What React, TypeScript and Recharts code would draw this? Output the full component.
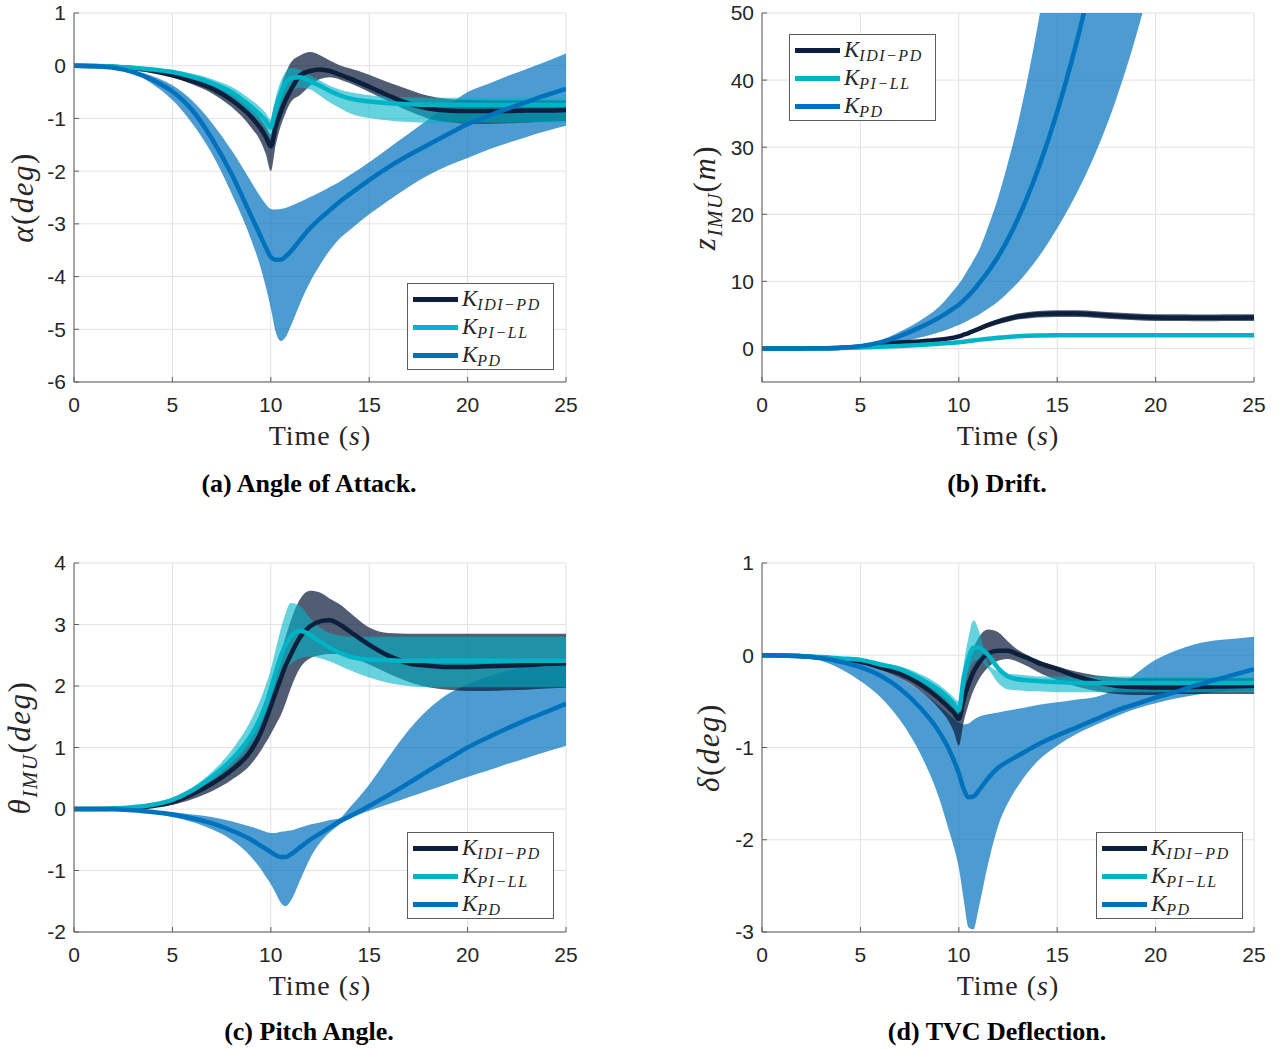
import React from 'react';
import { ComposedChart, Area, Line, XAxis, YAxis, CartesianGrid } from 'recharts';

// shared time base (s)
const TIME = [
  0, 1, 2, 3, 4, 5, 6, 7, 8, 9,
  9.5, 9.75, 10, 10.25, 10.5, 10.75,
  11, 11.5, 12, 12.5, 13, 13.5, 14,
  15, 16, 17, 18, 19, 20, 21, 22, 23, 24, 25,
];

const X_TICKS = [0, 5, 10, 15, 20, 25];
const AOA_TICKS = [-6, -5, -4, -3, -2, -1, 0, 1];
const DRIFT_TICKS = [0, 10, 20, 30, 40, 50];
const PITCH_TICKS = [-2, -1, 0, 1, 2, 3, 4];
const TVC_TICKS = [-3, -2, -1, 0, 1];

// (a) angle of attack, deg
const AOA_IDI = [
  0, -0.005, -0.02, -0.05, -0.1, -0.18, -0.29, -0.43, -0.65, -0.97,
  -1.2, -1.35, -1.53, -1.15, -0.88, -0.65,
  -0.47, -0.18, -0.1, -0.07, -0.1, -0.17, -0.24,
  -0.4, -0.57, -0.72, -0.81, -0.85, -0.86, -0.86, -0.86, -0.85, -0.85, -0.84,
];
const AOA_IDI_HI = [
  0, 0, -0.015, -0.04, -0.08, -0.14, -0.23, -0.35, -0.53, -0.82,
  -1.02, -1.15, -1.3, -0.8, -0.42, -0.15,
  0.05, 0.2, 0.26, 0.2, 0.1, 0.01, -0.05,
  -0.17, -0.32, -0.45, -0.57, -0.63, -0.65, -0.66, -0.66, -0.66, -0.66, -0.66,
];
const AOA_IDI_LO = [
  0, -0.01, -0.03, -0.06, -0.12, -0.22, -0.35, -0.52, -0.78, -1.17,
  -1.45, -1.68, -2.0, -1.5, -1.15, -0.9,
  -0.7, -0.55, -0.38, -0.25, -0.22, -0.26, -0.33,
  -0.5, -0.68, -0.86, -1.0, -1.07, -1.1, -1.1, -1.09, -1.08, -1.06, -1.05,
];
const AOA_PILL = [
  0, -0.005, -0.015, -0.04, -0.07, -0.12, -0.21, -0.33, -0.5, -0.78,
  -0.95, -1.05, -1.17, -0.8, -0.52, -0.33,
  -0.24, -0.22, -0.3, -0.38, -0.48, -0.56, -0.62,
  -0.68, -0.71, -0.73, -0.74, -0.74, -0.74, -0.74, -0.74, -0.74, -0.74, -0.74,
];
const AOA_PILL_HI = [
  0, 0, -0.01, -0.03, -0.05, -0.08, -0.15, -0.25, -0.4, -0.65,
  -0.8, -0.9, -1.02, -0.6, -0.3, -0.12,
  -0.04, -0.08, -0.18, -0.28, -0.38, -0.45, -0.5,
  -0.56, -0.59, -0.6, -0.61, -0.61, -0.61, -0.61, -0.61, -0.61, -0.61, -0.61,
];
const AOA_PILL_LO = [
  0, -0.01, -0.02, -0.05, -0.09, -0.16, -0.27, -0.41, -0.6, -0.92,
  -1.1, -1.22, -1.38, -1.08, -0.83, -0.65,
  -0.52, -0.42, -0.45, -0.57, -0.7, -0.8, -0.9,
  -0.99, -1.04, -1.07, -1.08, -1.08, -1.08, -1.08, -1.08, -1.08, -1.08, -1.08,
];
const AOA_PD = [
  0, -0.01, -0.04, -0.12, -0.27, -0.49, -0.84, -1.38, -2.05, -2.85,
  -3.25, -3.45, -3.63, -3.68, -3.68, -3.62,
  -3.53, -3.3, -3.08, -2.9, -2.74, -2.58, -2.44,
  -2.17, -1.92, -1.7, -1.5, -1.3, -1.11, -0.96, -0.82, -0.69, -0.56, -0.44,
];
const AOA_PD_HI = [
  0, -0.005, -0.03, -0.09, -0.2, -0.37, -0.66, -1.08, -1.6, -2.2,
  -2.5, -2.63, -2.72, -2.73, -2.72, -2.7,
  -2.66, -2.58, -2.49, -2.4, -2.3, -2.2, -2.08,
  -1.83, -1.56, -1.29, -1.02, -0.76, -0.5, -0.35, -0.2, -0.06, 0.08, 0.23,
];
const AOA_PD_LO = [
  0, -0.01, -0.05, -0.15, -0.35, -0.65, -1.09, -1.66, -2.42, -3.3,
  -3.85, -4.2, -4.6, -5.05, -5.22, -5.15,
  -4.95, -4.5, -4.1, -3.78, -3.5, -3.28, -3.12,
  -2.82, -2.55, -2.3, -2.08, -1.9, -1.75, -1.6, -1.47, -1.35, -1.24, -1.14,
];

// (b) drift, m  (null = far above the visible range)
const DRIFT_IDI = [
  0, 0, 0.01, 0.04, 0.12, 0.3, 0.6, 0.88, 1.05, 1.3,
  1.5, 1.62, 1.8, 2.05, 2.3, 2.6,
  2.9, 3.5, 4.0, 4.4, 4.75, 4.95, 5.1,
  5.2, 5.2, 5.05, 4.85, 4.7, 4.6, 4.58, 4.57, 4.57, 4.58, 4.6,
];
const DRIFT_IDI_HI = [
  0, 0, 0.02, 0.06, 0.16, 0.36, 0.68, 0.98, 1.18, 1.45,
  1.67, 1.8, 2.0, 2.27, 2.55, 2.87,
  3.2, 3.85, 4.4, 4.82, 5.2, 5.42, 5.58,
  5.7, 5.7, 5.55, 5.35, 5.2, 5.1, 5.08, 5.07, 5.07, 5.08, 5.1,
];
const DRIFT_IDI_LO = [
  0, 0, 0, 0.02, 0.08, 0.24, 0.52, 0.78, 0.92, 1.15,
  1.33, 1.44, 1.6, 1.83, 2.05, 2.33,
  2.6, 3.15, 3.6, 3.98, 4.3, 4.48, 4.62,
  4.7, 4.7, 4.55, 4.35, 4.2, 4.1, 4.08, 4.07, 4.07, 4.08, 4.1,
];
const DRIFT_PILL = [
  0, 0, 0.005, 0.02, 0.06, 0.14, 0.25, 0.38, 0.52, 0.7,
  0.8, 0.86, 0.93, 1.01, 1.1, 1.19,
  1.28, 1.45, 1.6, 1.72, 1.82, 1.88, 1.92,
  1.95, 1.95, 1.95, 1.95, 1.95, 1.95, 1.95, 1.95, 1.95, 1.95, 1.95,
];
const DRIFT_PILL_HI = [
  0, 0, 0.01, 0.03, 0.08, 0.18, 0.31, 0.46, 0.62, 0.82,
  0.93, 1.0, 1.08, 1.17, 1.26, 1.36,
  1.45, 1.62, 1.77, 1.9, 2.0, 2.06, 2.1,
  2.13, 2.13, 2.13, 2.13, 2.13, 2.13, 2.13, 2.13, 2.13, 2.13, 2.13,
];
const DRIFT_PILL_LO = [
  0, 0, 0, 0.01, 0.04, 0.1, 0.19, 0.3, 0.42, 0.58,
  0.67, 0.72, 0.78, 0.85, 0.94, 1.02,
  1.11, 1.28, 1.43, 1.54, 1.64, 1.7, 1.74,
  1.77, 1.77, 1.77, 1.77, 1.77, 1.77, 1.77, 1.77, 1.77, 1.77, 1.77,
];
const DRIFT_PD = [
  0, 0, 0.01, 0.04, 0.12, 0.35, 0.9, 1.85, 3.1, 4.6,
  5.5, 6.0, 6.5, 7.2, 7.9, 8.7,
  9.6, 11.5, 13.7, 16.3, 19.3, 22.7, 26.5,
  35.3, 45.8, 58, null, null, null, null, null, null, null, null,
];
const DRIFT_PD_HI = [
  0, 0, 0.01, 0.05, 0.17, 0.5, 1.2, 2.5, 4.1, 6.2,
  7.8, 8.7, 9.6, 10.7, 11.9, 13.2,
  14.5, 18.2, 22.5, 27.7, 33.5, 40.3, 48,
  66, 88, 112, 140, 170, 205, null, null, null, null, null,
];
const DRIFT_PD_LO = [
  0, 0, 0.01, 0.03, 0.1, 0.25, 0.55, 1.0, 1.6, 2.4,
  2.9, 3.2, 3.5, 3.85, 4.2, 4.6,
  5.0, 5.95, 7.0, 8.35, 9.8, 11.5, 13.4,
  17.9, 23.2, 29.5, 37.2, 46.5, 57.5, null, null, null, null, null,
];

// (c) pitch angle, deg
const PITCH_IDI = [
  0, 0, 0.005, 0.015, 0.05, 0.11, 0.24, 0.41, 0.63, 0.95,
  1.25, 1.45, 1.67, 1.9, 2.12, 2.33,
  2.5, 2.8, 2.97, 3.05, 3.07, 3.0, 2.89,
  2.67, 2.49, 2.37, 2.33, 2.31, 2.31, 2.32, 2.33, 2.34, 2.36, 2.37,
];
const PITCH_IDI_HI = [
  0, 0, 0.005, 0.02, 0.07, 0.15, 0.3, 0.5, 0.76, 1.16,
  1.5, 1.72, 1.97, 2.25, 2.52, 2.8,
  3.05, 3.42, 3.55, 3.52, 3.42, 3.33, 3.2,
  2.95, 2.86, 2.85, 2.85, 2.85, 2.85, 2.85, 2.85, 2.85, 2.85, 2.85,
];
const PITCH_IDI_LO = [
  0, 0, 0.003, 0.01, 0.03, 0.07, 0.16, 0.29, 0.47, 0.73,
  0.95, 1.08, 1.22, 1.37, 1.52, 1.72,
  1.95, 2.3, 2.45, 2.5, 2.52, 2.52, 2.48,
  2.35, 2.2, 2.07, 1.98, 1.94, 1.92, 1.92, 1.93, 1.94, 1.96, 1.97,
];
const PITCH_PILL = [
  0, 0, 0.008, 0.03, 0.07, 0.15, 0.3, 0.52, 0.8, 1.2,
  1.5, 1.7, 1.95, 2.22, 2.47, 2.67,
  2.8, 2.9, 2.83, 2.72, 2.62, 2.54, 2.48,
  2.43, 2.42, 2.41, 2.41, 2.41, 2.41, 2.41, 2.41, 2.41, 2.41, 2.41,
];
const PITCH_PILL_HI = [
  0, 0, 0.01, 0.035, 0.09, 0.18, 0.35, 0.6, 0.95, 1.45,
  1.8, 2.02, 2.27, 2.6, 2.92, 3.18,
  3.35, 3.3, 3.1, 2.95, 2.86, 2.82, 2.8,
  2.8, 2.8, 2.8, 2.8, 2.8, 2.8, 2.8, 2.8, 2.8, 2.8, 2.8,
];
const PITCH_PILL_LO = [
  0, 0, 0.006, 0.025, 0.06, 0.12, 0.26, 0.45, 0.7, 1.05,
  1.3, 1.47, 1.65, 1.87, 2.1, 2.25,
  2.35, 2.45, 2.48, 2.45, 2.4, 2.33, 2.26,
  2.14, 2.05, 2.0, 1.98, 1.98, 1.98, 1.98, 1.98, 1.98, 1.98, 1.98,
];
const PITCH_PD = [
  0, 0, -0.005, -0.02, -0.05, -0.09, -0.15, -0.23, -0.35, -0.5,
  -0.6, -0.65, -0.7, -0.75, -0.78, -0.78,
  -0.74, -0.62, -0.5, -0.4, -0.3, -0.2, -0.12,
  0.05, 0.23, 0.42, 0.62, 0.81, 1.0, 1.16, 1.31, 1.45, 1.58, 1.71,
];
const PITCH_PD_HI = [
  0, 0, -0.003, -0.01, -0.03, -0.05, -0.09, -0.13, -0.2, -0.29,
  -0.34, -0.37, -0.39, -0.39, -0.37, -0.36,
  -0.35, -0.3, -0.25, -0.22, -0.18, -0.15, 0.02,
  0.4, 0.85, 1.28, 1.62, 1.87, 2.03, 2.15, 2.25, 2.32, 2.37, 2.42,
];
const PITCH_PD_LO = [
  0, 0, -0.007, -0.03, -0.07, -0.13, -0.21, -0.33, -0.5, -0.78,
  -0.98, -1.1, -1.22, -1.37, -1.52, -1.58,
  -1.5, -1.15, -0.8, -0.55, -0.38, -0.25, -0.16,
  -0.03, 0.08, 0.19, 0.3, 0.41, 0.52, 0.62, 0.73, 0.83, 0.93, 1.03,
];

// (d) TVC deflection, deg
const TVC_IDI = [
  0, -0.003, -0.01, -0.025, -0.045, -0.07, -0.13, -0.2, -0.31, -0.47,
  -0.57, -0.62, -0.69, -0.48, -0.31, -0.18,
  -0.09, 0.02, 0.05, 0.05, 0.01, -0.03, -0.08,
  -0.15, -0.23, -0.29, -0.33, -0.345, -0.35, -0.35, -0.345, -0.34, -0.335, -0.33,
];
const TVC_IDI_HI = [
  0, -0.002, -0.008, -0.02, -0.035, -0.055, -0.1, -0.16, -0.25, -0.39,
  -0.48, -0.53, -0.57, -0.3, -0.08, 0.08,
  0.19, 0.28, 0.25, 0.15, 0.06, 0.0, -0.05,
  -0.12, -0.18, -0.22, -0.24, -0.25, -0.25, -0.25, -0.25, -0.25, -0.25, -0.25,
];
const TVC_IDI_LO = [
  0, -0.004, -0.013, -0.03, -0.055, -0.09, -0.16, -0.25, -0.38, -0.58,
  -0.72, -0.83, -0.98, -0.72, -0.53, -0.38,
  -0.27, -0.13, -0.06, -0.04, -0.07, -0.12, -0.18,
  -0.27, -0.34, -0.39, -0.42, -0.43, -0.43, -0.42, -0.42, -0.42, -0.42, -0.42,
];
const TVC_PILL = [
  0, -0.003, -0.008, -0.02, -0.035, -0.05, -0.1, -0.15, -0.25, -0.38,
  -0.47, -0.53, -0.6, -0.24, -0.03, 0.08,
  0.08, 0.0, -0.14, -0.23, -0.26, -0.27, -0.28,
  -0.29, -0.3, -0.3, -0.3, -0.3, -0.3, -0.3, -0.3, -0.3, -0.3, -0.3,
];
const TVC_PILL_HI = [
  0, -0.002, -0.006, -0.015, -0.025, -0.035, -0.075, -0.12, -0.2, -0.32,
  -0.41, -0.46, -0.5, -0.1, 0.2, 0.38,
  0.28, -0.1, -0.17, -0.2, -0.21, -0.22, -0.23,
  -0.23, -0.23, -0.23, -0.23, -0.23, -0.23, -0.23, -0.23, -0.23, -0.23, -0.23,
];
const TVC_PILL_LO = [
  0, -0.004, -0.01, -0.025, -0.045, -0.07, -0.12, -0.18, -0.29, -0.44,
  -0.55, -0.63, -0.72, -0.42, -0.18, -0.07,
  -0.05, -0.15, -0.3, -0.37, -0.38, -0.39, -0.39,
  -0.4, -0.4, -0.4, -0.4, -0.4, -0.4, -0.4, -0.4, -0.4, -0.4, -0.4,
];
const TVC_PD = [
  0, -0.003, -0.012, -0.03, -0.07, -0.13, -0.22, -0.36, -0.56, -0.83,
  -1.02, -1.14, -1.28, -1.45, -1.54, -1.53,
  -1.47, -1.33, -1.22, -1.15, -1.09, -1.03, -0.97,
  -0.87, -0.78, -0.69, -0.6, -0.53, -0.46, -0.4, -0.33, -0.27, -0.21, -0.15,
];
const TVC_PD_HI = [
  0, -0.002, -0.008, -0.02, -0.05, -0.09, -0.16, -0.25, -0.38, -0.55,
  -0.64, -0.69, -0.73, -0.75, -0.74, -0.7,
  -0.67, -0.64, -0.62, -0.6, -0.58, -0.56, -0.54,
  -0.51, -0.48, -0.45, -0.36, -0.2, -0.05, 0.05, 0.12, 0.16, 0.18, 0.2,
];
const TVC_PD_LO = [
  0, -0.005, -0.025, -0.06, -0.15, -0.28, -0.45, -0.7, -1.05, -1.55,
  -1.9, -2.08, -2.3, -2.65, -2.95, -2.97,
  -2.75, -2.25, -1.85, -1.6, -1.42, -1.27, -1.15,
  -0.98, -0.85, -0.75, -0.66, -0.58, -0.52, -0.47, -0.43, -0.4, -0.38, -0.37,
];

const SERIES = [
  { key: 'idi', sub: 'IDI\u2212PD', color: '#0c1f3d', bandOpacity: 0.72 },
  { key: 'pill', sub: 'PI\u2212LL', color: '#00b4c8', bandOpacity: 0.6 },
  { key: 'pd', sub: 'PD', color: '#0072bd', bandOpacity: 0.7 },
];

type Num = number | null;
const band = (lo: Num[], hi: Num[], i: number) =>
  lo[i] == null || hi[i] == null ? null : [lo[i], hi[i]];

function buildRows(s: { [k: string]: Num[] }) {
  return TIME.map((t, i) => ({
    t,
    idi: s.idi[i],
    idiBand: band(s.idiLo, s.idiHi, i),
    pill: s.pill[i],
    pillBand: band(s.pillLo, s.pillHi, i),
    pd: s.pd[i],
    pdBand: band(s.pdLo, s.pdHi, i),
  }));
}

const PLOT_W = 492;
const PLOT_H = 369;
const AXIS_W = 74;
const MARGIN = { top: 13, right: 22, bottom: 0, left: 0 };
const CHART_W = AXIS_W + PLOT_W + MARGIN.right;
const CHART_H = MARGIN.top + PLOT_H + 70;
const BOX = '#5c5c5c';
const TEXT = '#262626';
const SERIF = '"Liberation Serif", "Times New Roman", serif';
const SANS = '"Liberation Sans", Arial, sans-serif';
const TICK_STYLE = { fill: TEXT, fontSize: 21, fontFamily: SANS };

const PANELS = [
  {
    id: 'a', left: 0, top: 0, domain: [-6, 1], ticks: AOA_TICKS,
    rows: buildRows({
      idi: AOA_IDI, idiLo: AOA_IDI_LO, idiHi: AOA_IDI_HI,
      pill: AOA_PILL, pillLo: AOA_PILL_LO, pillHi: AOA_PILL_HI,
      pd: AOA_PD, pdLo: AOA_PD_LO, pdHi: AOA_PD_HI,
    }),
    yTitle: { bx: 33, main: '\u03b1', sub: '', unit: 'deg' },
    caption: '(a) Angle of Attack.', capX: 309, capY: 469,
    legend: { left: 407, top: 283 },
  },
  {
    id: 'b', left: 688, top: 0, domain: [-5, 50], ticks: DRIFT_TICKS,
    rows: buildRows({
      idi: DRIFT_IDI, idiLo: DRIFT_IDI_LO, idiHi: DRIFT_IDI_HI,
      pill: DRIFT_PILL, pillLo: DRIFT_PILL_LO, pillHi: DRIFT_PILL_HI,
      pd: DRIFT_PD, pdLo: DRIFT_PD_LO, pdHi: DRIFT_PD_HI,
    }),
    yTitle: { bx: 27, main: 'z', sub: 'IMU', unit: 'm' },
    caption: '(b) Drift.', capX: 997, capY: 469,
    legend: { left: 789, top: 34 },
  },
  {
    id: 'c', left: 0, top: 550, domain: [-2, 4], ticks: PITCH_TICKS,
    rows: buildRows({
      idi: PITCH_IDI, idiLo: PITCH_IDI_LO, idiHi: PITCH_IDI_HI,
      pill: PITCH_PILL, pillLo: PITCH_PILL_LO, pillHi: PITCH_PILL_HI,
      pd: PITCH_PD, pdLo: PITCH_PD_LO, pdHi: PITCH_PD_HI,
    }),
    yTitle: { bx: 30, main: '\u03b8', sub: 'IMU', unit: 'deg' },
    caption: '(c) Pitch Angle.', capX: 309, capY: 1017,
    legend: { left: 407, top: 832 },
  },
  {
    id: 'd', left: 688, top: 550, domain: [-3, 1], ticks: TVC_TICKS,
    rows: buildRows({
      idi: TVC_IDI, idiLo: TVC_IDI_LO, idiHi: TVC_IDI_HI,
      pill: TVC_PILL, pillLo: TVC_PILL_LO, pillHi: TVC_PILL_HI,
      pd: TVC_PD, pdLo: TVC_PD_LO, pdHi: TVC_PD_HI,
    }),
    yTitle: { bx: 31, main: '\u03b4', sub: '', unit: 'deg' },
    caption: '(d) TVC Deflection.', capX: 997, capY: 1017,
    legend: { left: 1096, top: 832 },
  },
];

// bx is the baseline position of the rotated title (chart coordinates)
const YTitle = ({ bx, main, sub, unit }: any) => {
  const cy = MARGIN.top + PLOT_H / 2;
  return (
    <text
      x={bx}
      y={cy}
      transform={`rotate(-90, ${bx}, ${cy})`}
      textAnchor="middle"
      fontFamily={SERIF}
      fontSize={31}
      letterSpacing={1.5}
      fill={TEXT}
    >
      <tspan fontStyle="italic">{main}</tspan>
      {sub ? (
        <tspan fontStyle="italic" fontSize={21} dy={7}>{sub}</tspan>
      ) : null}
      <tspan dy={sub ? -7 : 0}>(</tspan>
      <tspan fontStyle="italic">{unit}</tspan>
      <tspan>)</tspan>
    </text>
  );
};

const XTitle = () => (
  <text
    x={AXIS_W + PLOT_W / 2}
    y={445}
    textAnchor="middle"
    fontFamily={SERIF}
    fontSize={28}
    letterSpacing={1}
    fill={TEXT}
  >
    Time (<tspan fontStyle="italic">s</tspan>)
  </text>
);

const LegendBox = ({ left, top }: { left: number; top: number }) => (
  <div
    style={{
      position: 'absolute', left, top, width: 147, height: 87,
      border: `1px solid ${BOX}`, background: '#fff', boxSizing: 'border-box',
    }}
  >
    {SERIES.map((s, i) => {
      const rowY = 15 + i * 28;
      return (
        <React.Fragment key={s.key}>
          <div
            style={{
              position: 'absolute', left: 5, top: rowY - 2.5, width: 45, height: 5,
              background: s.color,
            }}
          />
          <div
            style={{
              position: 'absolute', left: 54, top: rowY - 14, height: 28,
              lineHeight: '28px', whiteSpace: 'nowrap', color: TEXT,
              fontFamily: SERIF, fontStyle: 'italic', fontSize: 23,
            }}
          >
            K
            <span style={{ fontSize: 16, position: 'relative', top: 4, letterSpacing: 1.5 }}>
              {s.sub}
            </span>
          </div>
        </React.Fragment>
      );
    })}
  </div>
);

const Panel = ({ cfg }: { cfg: any }) => (
  <div style={{ position: 'absolute', left: cfg.left, top: cfg.top }}>
    <ComposedChart width={CHART_W} height={CHART_H} data={cfg.rows} margin={MARGIN}>
      <CartesianGrid stroke="#e2e2e2" />
      <XAxis
        dataKey="t"
        type="number"
        domain={[0, 25]}
        ticks={X_TICKS}
        interval={0}
        allowDataOverflow
        height={70}
        tickSize={-5}
        tickMargin={20}
        tick={TICK_STYLE}
        stroke={BOX}
        label={<XTitle />}
      />
      <XAxis
        xAxisId="top"
        orientation="top"
        type="number"
        domain={[0, 25]}
        ticks={X_TICKS}
        interval={0}
        allowDataOverflow
        height={0}
        tick={false}
        tickSize={-5}
        stroke={BOX}
      />
      <YAxis
        type="number"
        domain={cfg.domain}
        ticks={cfg.ticks}
        interval={0}
        allowDataOverflow
        width={AXIS_W}
        tickSize={-5}
        tickMargin={13}
        tick={TICK_STYLE}
        stroke={BOX}
        label={<YTitle {...cfg.yTitle} />}
      />
      <YAxis
        yAxisId="right"
        orientation="right"
        type="number"
        domain={cfg.domain}
        ticks={cfg.ticks}
        interval={0}
        allowDataOverflow
        width={0}
        tick={false}
        tickSize={-5}
        stroke={BOX}
      />
      {['pd', 'idi', 'pill'].map((k) => {
        const s = SERIES.find((x) => x.key === k)!;
        return (
          <Area
            key={`${k}Band`}
            dataKey={`${k}Band`}
            type="monotone"
            stroke="none"
            fill={s.color}
            fillOpacity={s.bandOpacity}
            dot={false}
            activeDot={false}
            isAnimationActive={false}
          />
        );
      })}
      {SERIES.map((s) => (
        <Line
          key={s.key}
          dataKey={s.key}
          type="monotone"
          stroke={s.color}
          strokeWidth={4.5}
          dot={false}
          activeDot={false}
          isAnimationActive={false}
        />
      ))}
    </ComposedChart>
  </div>
);

export default function App() {
  return (
    <div
      style={{
        position: 'absolute', left: 0, top: 0, width: 1282, height: 1050,
        background: '#fff', overflow: 'hidden',
      }}
    >
      {PANELS.map((p) => (
        <React.Fragment key={p.id}>
          <Panel cfg={p} />
          <LegendBox {...p.legend} />
          <div
            style={{
              position: 'absolute', left: p.capX - 200, top: p.capY, width: 400,
              textAlign: 'center', fontFamily: SERIF, fontWeight: 'bold',
              fontSize: 26, lineHeight: '30px', color: '#000',
            }}
          >
            {p.caption}
          </div>
        </React.Fragment>
      ))}
    </div>
  );
}
